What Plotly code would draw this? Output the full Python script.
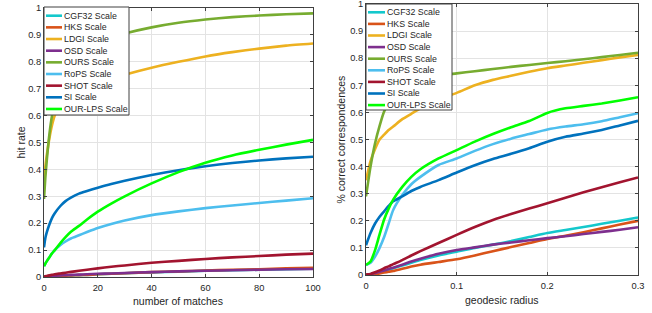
import plotly.graph_objects as go

W, H = 652, 313

names = ["CGF32 Scale", "HKS Scale", "LDGI Scale", "OSD Scale", "OURS Scale",
         "RoPS Scale", "SHOT Scale", "SI Scale", "OUR-LPS Scale"]
colors = ["#14C8CC", "#D95319", "#EDB120", "#7E2F8E", "#77AC30",
          "#4DBEEE", "#A2142F", "#0072BD", "#00FF00"]

# ---- left panel: hit rate vs number of matches ----
matches = [0, 0.5, 1, 2, 3, 4, 6, 8, 10, 13, 16, 20, 25, 30, 40, 50, 60, 70, 80, 90, 100]
hit_cgf32 = [0, 0.0005, 0.001, 0.002, 0.0025, 0.003, 0.004, 0.005, 0.006, 0.007, 0.008, 0.010, 0.012, 0.014, 0.017, 0.020, 0.023, 0.025, 0.027, 0.029, 0.031]
hit_hks = [0, 0.0005, 0.001, 0.002, 0.0025, 0.003, 0.004, 0.005, 0.006, 0.007, 0.008, 0.010, 0.012, 0.014, 0.018, 0.021, 0.024, 0.027, 0.029, 0.032, 0.034]
hit_ldgi = [0.35, 0.41, 0.45, 0.515, 0.565, 0.60, 0.64, 0.665, 0.68, 0.695, 0.707, 0.72, 0.737, 0.752, 0.778, 0.80, 0.82, 0.836, 0.849, 0.86, 0.868]
hit_osd = [0, 0.001, 0.002, 0.003, 0.004, 0.005, 0.006, 0.007, 0.008, 0.009, 0.010, 0.012, 0.013, 0.015, 0.018, 0.021, 0.023, 0.025, 0.027, 0.029, 0.030]
hit_ours = [0.29, 0.37, 0.43, 0.53, 0.60, 0.645, 0.71, 0.76, 0.79, 0.825, 0.85, 0.87, 0.89, 0.905, 0.928, 0.945, 0.957, 0.966, 0.972, 0.977, 0.98]
hit_rops = [0.04, 0.05, 0.058, 0.073, 0.088, 0.10, 0.118, 0.132, 0.143, 0.155, 0.167, 0.182, 0.197, 0.21, 0.23, 0.244, 0.256, 0.266, 0.275, 0.284, 0.293]
hit_shot = [0.002, 0.003, 0.004, 0.006, 0.008, 0.010, 0.013, 0.016, 0.019, 0.023, 0.027, 0.032, 0.038, 0.043, 0.053, 0.060, 0.067, 0.073, 0.078, 0.083, 0.087]
hit_si = [0.11, 0.145, 0.165, 0.195, 0.22, 0.237, 0.263, 0.282, 0.295, 0.31, 0.32, 0.332, 0.346, 0.358, 0.379, 0.397, 0.412, 0.424, 0.433, 0.441, 0.447]
hit_ourlps = [0.04, 0.05, 0.058, 0.073, 0.088, 0.10, 0.125, 0.148, 0.168, 0.19, 0.214, 0.243, 0.273, 0.30, 0.348, 0.39, 0.425, 0.452, 0.473, 0.492, 0.51]

# ---- right panel: % correct correspondences vs geodesic radius ----
radius = [0, 0.005, 0.01, 0.015, 0.02, 0.025, 0.03, 0.04, 0.05, 0.06, 0.08, 0.1, 0.12, 0.14, 0.16, 0.18, 0.2, 0.22, 0.24, 0.26, 0.28, 0.3]
cc_cgf32 = [0, 0.003, 0.007, 0.011, 0.015, 0.02, 0.025, 0.035, 0.045, 0.055, 0.072, 0.086, 0.10, 0.112, 0.125, 0.14, 0.155, 0.166, 0.177, 0.189, 0.20, 0.212]
cc_hks = [0, 0.002, 0.004, 0.006, 0.009, 0.012, 0.015, 0.023, 0.031, 0.038, 0.048, 0.058, 0.072, 0.088, 0.103, 0.118, 0.133, 0.145, 0.158, 0.172, 0.186, 0.20]
cc_ldgi = [0.35, 0.42, 0.465, 0.50, 0.518, 0.535, 0.548, 0.575, 0.595, 0.615, 0.648, 0.672, 0.70, 0.72, 0.735, 0.75, 0.763, 0.773, 0.783, 0.793, 0.803, 0.812]
cc_osd = [0, 0.003, 0.007, 0.012, 0.017, 0.022, 0.027, 0.038, 0.05, 0.06, 0.078, 0.092, 0.102, 0.112, 0.12, 0.128, 0.136, 0.143, 0.151, 0.159, 0.167, 0.176]
cc_ours = [0.29, 0.40, 0.486, 0.55, 0.603, 0.635, 0.66, 0.69, 0.71, 0.722, 0.736, 0.744, 0.752, 0.76, 0.768, 0.775, 0.782, 0.789, 0.796, 0.804, 0.812, 0.82]
cc_rops = [0.037, 0.045, 0.068, 0.1, 0.14, 0.19, 0.24, 0.295, 0.335, 0.362, 0.406, 0.43, 0.458, 0.483, 0.503, 0.52, 0.537, 0.548, 0.556, 0.567, 0.582, 0.597]
cc_shot = [0.002, 0.004, 0.01, 0.017, 0.025, 0.032, 0.04, 0.055, 0.072, 0.088, 0.118, 0.148, 0.177, 0.203, 0.225, 0.245, 0.265, 0.285, 0.305, 0.324, 0.342, 0.36]
cc_si = [0.11, 0.155, 0.19, 0.215, 0.235, 0.255, 0.272, 0.29, 0.31, 0.325, 0.35, 0.378, 0.405, 0.428, 0.447, 0.468, 0.492, 0.51, 0.522, 0.535, 0.552, 0.569]
cc_ourlps = [0.037, 0.05, 0.092, 0.15, 0.205, 0.245, 0.278, 0.325, 0.362, 0.39, 0.43, 0.461, 0.492, 0.52, 0.545, 0.568, 0.598, 0.615, 0.624, 0.633, 0.644, 0.656]

left_series = [hit_cgf32, hit_hks, hit_ldgi, hit_osd, hit_ours, hit_rops, hit_shot, hit_si, hit_ourlps]
right_series = [cc_cgf32, cc_hks, cc_ldgi, cc_osd, cc_ours, cc_rops, cc_shot, cc_si, cc_ourlps]

x_ticks_left = [0, 20, 40, 60, 80, 100]
x_ticks_right = [0, 0.1, 0.2, 0.3]
y_ticks = [0, 0.1, 0.2, 0.3, 0.4, 0.5, 0.6, 0.7, 0.8, 0.9, 1]
y_tick_text = ["0", "0.1", "0.2", "0.3", "0.4", "0.5", "0.6", "0.7", "0.8", "0.9", "1"]

# pixel geometry of the two axes boxes
L = dict(x0=44, x1=313, top=8, bot=277)
R = dict(x0=366, x1=638, top=4, bot=275)

def px(x):
    return x / W

def py(y):
    return 1 - y / H

FONT = "Liberation Sans, Arial, sans-serif"
TXT = "#262626"
LW = 2.6

fig = go.Figure()
for name, col, ys in zip(names, colors, left_series):
    fig.add_trace(go.Scatter(x=matches, y=ys, mode="lines", name=name,
                             line=dict(color=col, width=LW, shape="spline", smoothing=0.6),
                             xaxis="x", yaxis="y", showlegend=False))
for name, col, ys in zip(names, colors, right_series):
    fig.add_trace(go.Scatter(x=radius, y=ys, mode="lines", name=name,
                             line=dict(color=col, width=LW, shape="spline", smoothing=0.6),
                             xaxis="x2", yaxis="y2", showlegend=False))

axis_common = dict(showline=True, linecolor="#404040", linewidth=1, mirror="ticks",
                   ticks="inside", ticklen=3, tickcolor="#404040", tickwidth=1,
                   showgrid=True, gridcolor="#e3e3e3", gridwidth=1, zeroline=False,
                   automargin=False, ticklabeloverflow="allow",
                   tickfont=dict(family=FONT, size=9.3, color=TXT))

fig.update_layout(
    width=W, height=H, margin=dict(l=0, r=0, t=0, b=0, autoexpand=False),
    paper_bgcolor="white", plot_bgcolor="white", showlegend=False,
    xaxis=dict(domain=[px(L["x0"]), px(L["x1"])], range=[0, 100], tickvals=x_ticks_left,
               anchor="y", ticklabelstandoff=2, **axis_common),
    yaxis=dict(domain=[py(L["bot"]), py(L["top"])], range=[0, 1], tickvals=y_ticks,
               ticktext=y_tick_text, anchor="x", **axis_common),
    xaxis2=dict(domain=[px(R["x0"]), px(R["x1"])], range=[0, 0.3], tickvals=x_ticks_right,
                ticktext=["0", "0.1", "0.2", "0.3"], anchor="y2", ticklabelstandoff=2, **axis_common),
    yaxis2=dict(domain=[py(R["bot"]), py(R["top"])], range=[0, 1], tickvals=y_ticks,
                ticktext=y_tick_text, anchor="x2", **axis_common),
)

shapes = []
annotations = []

# axis titles
title_font = dict(family=FONT, size=10.5, color=TXT)
def title(text, xp, yp, angle=0):
    annotations.append(dict(text=text, x=px(xp), y=py(yp), xref="paper", yref="paper",
                            xanchor="center", yanchor="middle", showarrow=False,
                            textangle=angle, font=title_font))

title("number of matches", (L["x0"] + L["x1"]) / 2, 301)
title("hit rate", 20, (L["top"] + L["bot"]) / 2, -90)
title("geodesic radius", (R["x0"] + R["x1"]) / 2, 300)
title("% correct correspondences", 340, (R["top"] + R["bot"]) / 2, -90)

# legends (MATLAB-style compact boxes)
def add_legend(bx0, by0, bx1, by1, first_y, step, s0, s1, tx):
    shapes.append(dict(type="rect", xref="paper", yref="paper",
                       x0=px(bx0), x1=px(bx1), y0=py(by1), y1=py(by0),
                       line=dict(color="#404040", width=1), fillcolor="white", layer="above"))
    for i, (name, col) in enumerate(zip(names, colors)):
        yy = first_y + i * step
        shapes.append(dict(type="line", xref="paper", yref="paper",
                           x0=px(s0), x1=px(s1), y0=py(yy), y1=py(yy),
                           line=dict(color=col, width=LW), layer="above"))
        annotations.append(dict(text=name, x=px(tx), y=py(yy), xref="paper", yref="paper",
                                xanchor="left", yanchor="middle", showarrow=False,
                                font=dict(family=FONT, size=8.8, color=TXT)))

add_legend(44, 7, 129, 115, 15.7, 11.66, 46, 62, 62)
add_legend(366, 4, 452, 110, 12.3, 11.6, 368, 385, 385)

fig.update_layout(shapes=shapes, annotations=annotations)
fig.write_html("out.html", config={"displayModeBar": False},
               post_script="document.body.style.margin='0';document.body.style.overflow='hidden';")
